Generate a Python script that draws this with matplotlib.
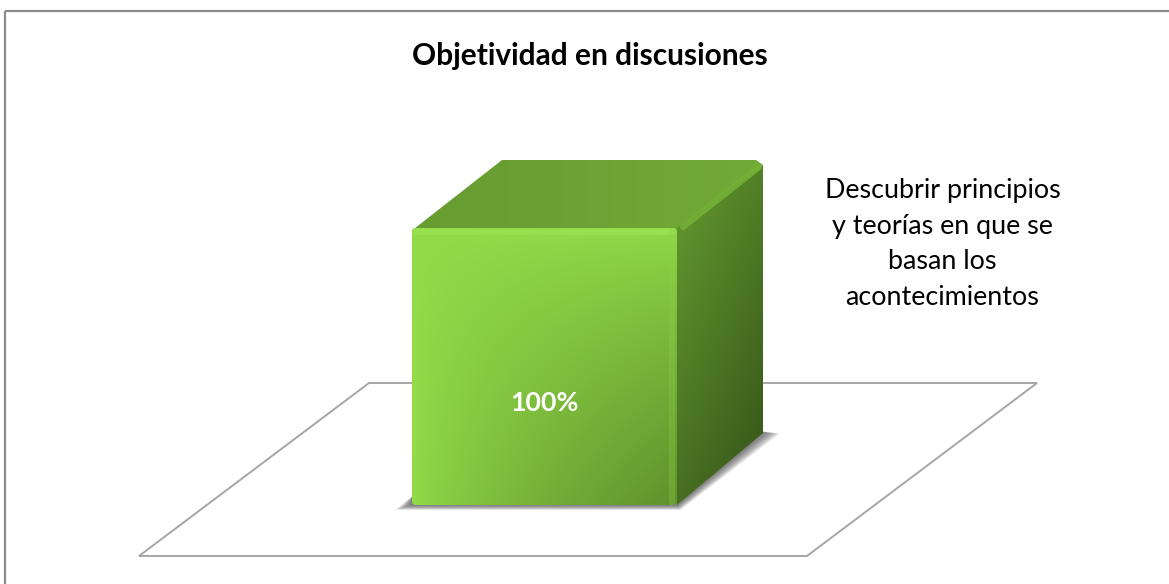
"""
Objetividad en discusiones: single 3D style column on a floor, drawn on a flat axes.
"""
import numpy as np
import matplotlib
matplotlib.use("Agg")
import matplotlib.pyplot as plt
from matplotlib.colors import to_rgb
from matplotlib.patches import FancyBboxPatch, Polygon

# data
title = "Objetividad en discusiones"
categories = ["Descubrir principios\ny teorías en que se\nbasan los\nacontecimientos"]
values = [100]
value_labels = ["100%"]

FIG_W, FIG_H = 1169, 584
BAR_LEFT, BAR_RIGHT = 412, 677
BAR_BASE, BAR_TOP = 505, 228
px_x = (BAR_RIGHT - BAR_LEFT) / 0.8
px_y = (BAR_BASE - BAR_TOP) / 100.0
cx = (BAR_LEFT + BAR_RIGHT) / 2

BAR_W = 0.8
DEPTH_X = 86 / px_x
DEPTH_Y = 72 / px_y


def lerp(a, b, t):
    a, b = np.array(to_rgb(a)), np.array(to_rgb(b))
    return a + (b - a) * t[..., None]


def shade(ax, poly, rgb, extent, z):
    # paint a gradient array and clip it to a polygon
    patch = Polygon(poly, closed=True, fc="none", ec="none", transform=ax.transData)
    ax.add_patch(patch)
    im = ax.imshow(rgb, extent=extent, origin="upper", aspect="auto", zorder=z,
                   interpolation="bilinear")
    im.set_clip_path(patch)
    return im


fig = plt.figure(figsize=(FIG_W / 100, FIG_H / 100), dpi=100)
ax = fig.add_axes([0, 0, 1, 1])
xlim = (-cx / px_x, (FIG_W - cx) / px_x)
ylim = ((BAR_BASE - FIG_H) / px_y, BAR_BASE / px_y)
ax.axis("off")

# outer frame
frame_kw = dict(color="#8c8c8c", lw=1.6, zorder=1, solid_capstyle="butt")
ax.plot([xlim[0] + 5.5 / px_x] * 2, [ylim[0], ylim[1] - 10.5 / px_y], **frame_kw)
ax.plot([xlim[0] + 5.5 / px_x, xlim[1]], [ylim[1] - 10.5 / px_y] * 2, **frame_kw)

# floor
floor_y0, floor_y1 = -51 / px_y, 122 / px_y
floor_x0, floor_x1 = (139 - cx) / px_x, (807 - cx) / px_x
floor_dx = 230 / px_x
ax.add_patch(Polygon([(floor_x0, floor_y0), (floor_x1, floor_y0),
                      (floor_x1 + floor_dx, floor_y1), (floor_x0 + floor_dx, floor_y1)],
                     closed=True, fc="white", ec="#a6a6a6", lw=1.4, zorder=2))

for i, (val, lab) in enumerate(zip(values, value_labels)):
    x0, x1 = i - BAR_W / 2, i + BAR_W / 2

    # soft shadow under the column
    for grow in np.linspace(1.0, 0.15, 10):
        sx, sy = grow * 17 / px_x, grow * 5 / px_y
        ax.add_patch(Polygon([(x0 - sx, -sy), (x1 + 0.2 * sx, -sy),
                              (x1 + DEPTH_X + sx, DEPTH_Y - 0.1 * sy),
                              (x1 + DEPTH_X, DEPTH_Y + 0.5),
                              (x1, 3), (x0, 3)],
                             closed=True, fc="#3a3a3a", ec="none", alpha=0.09, zorder=3))

    # top face
    n = 64
    u, v = np.meshgrid(np.linspace(0, 1, n), np.linspace(0, 1, n))
    top_poly = [(x0 - 2 / px_x, val - 4 / px_y), (x1, val - 4 / px_y),
                (x1 + DEPTH_X, val + DEPTH_Y - 9 / px_y),
                (x1 + DEPTH_X - 7 / px_x, val + DEPTH_Y - 4 / px_y),
                (x0 + DEPTH_X + 4 / px_x, val + DEPTH_Y - 4 / px_y)]
    shade(ax, top_poly, lerp("#679c31", "#72aa37", u),
          (x0, x1 + DEPTH_X, val - 4 / px_y, val + DEPTH_Y), 4)

    # right face, darker towards the lower corner
    side_poly = [(x1, 0), (x1 + DEPTH_X, DEPTH_Y), (x1 + DEPTH_X, val + DEPTH_Y - 9 / px_y),
                 (x1, val)]
    t = np.clip(0.62 * v + 0.38 * u, 0, 1)
    shade(ax, side_poly, lerp("#659c30", "#355318", t),
          (x1, x1 + DEPTH_X, 0, val + DEPTH_Y), 4)

    # bevel along the right top edge of the side
    ax.plot([x1 + 6 / px_x, x1 + DEPTH_X - 4 / px_x],
            [val + 1 / px_y, val + DEPTH_Y - 11 / px_y],
            color="#74b036", lw=4.5, zorder=5, solid_capstyle="round", alpha=0.9)

    # front face, bright left and top, dark in the lower right corner
    front = FancyBboxPatch((x0, 0), BAR_W, val, boxstyle="round,pad=0,rounding_size=0.012",
                           mutation_aspect=px_x / px_y, fc="none", ec="none", zorder=6)
    ax.add_patch(front)
    n = 160
    u, v = np.meshgrid(np.linspace(0, 1, n), np.linspace(0, 1, n))
    t = np.clip((u * v) ** 0.75, 0, 1)
    im = ax.imshow(lerp("#93dc49", "#5f922c", t), extent=(x0, x1, 0, val), origin="upper",
                   aspect="auto", zorder=6, interpolation="bilinear")
    im.set_clip_path(front)

    # bevel highlights on the front face
    ax.plot([x0 + 4 / px_x, x1 - 4 / px_x], [val - 4 / px_y] * 2, color="#9ae455",
            lw=4, alpha=0.7, zorder=7, solid_capstyle="round")
    ax.plot([x1 - 5 / px_x] * 2, [val - 4 / px_y, 3 / px_y], color="#8fd24a",
            lw=4.5, alpha=0.28, zorder=7, solid_capstyle="round")

    # value label and category label
    ax.text(i, 0.368 * val, lab, color="white", fontsize=19.3, fontweight="bold",
            ha="center", va="center", family="Lato", zorder=8)
    ax.text(i + 398 / px_x, (BAR_BASE - 244) / px_y, categories[i], color="black",
            fontsize=19.4, ha="center", va="center", linespacing=1.52, family="Lato", zorder=8)

ax.text((590 - cx) / px_x, (BAR_BASE - 56) / px_y, title, fontsize=21.5, fontweight="bold",
        ha="center", va="center", family="Lato", color="black", zorder=8)

ax.set_xlim(*xlim)
ax.set_ylim(*ylim)
fig.savefig("out.png", dpi=100, facecolor="white")
